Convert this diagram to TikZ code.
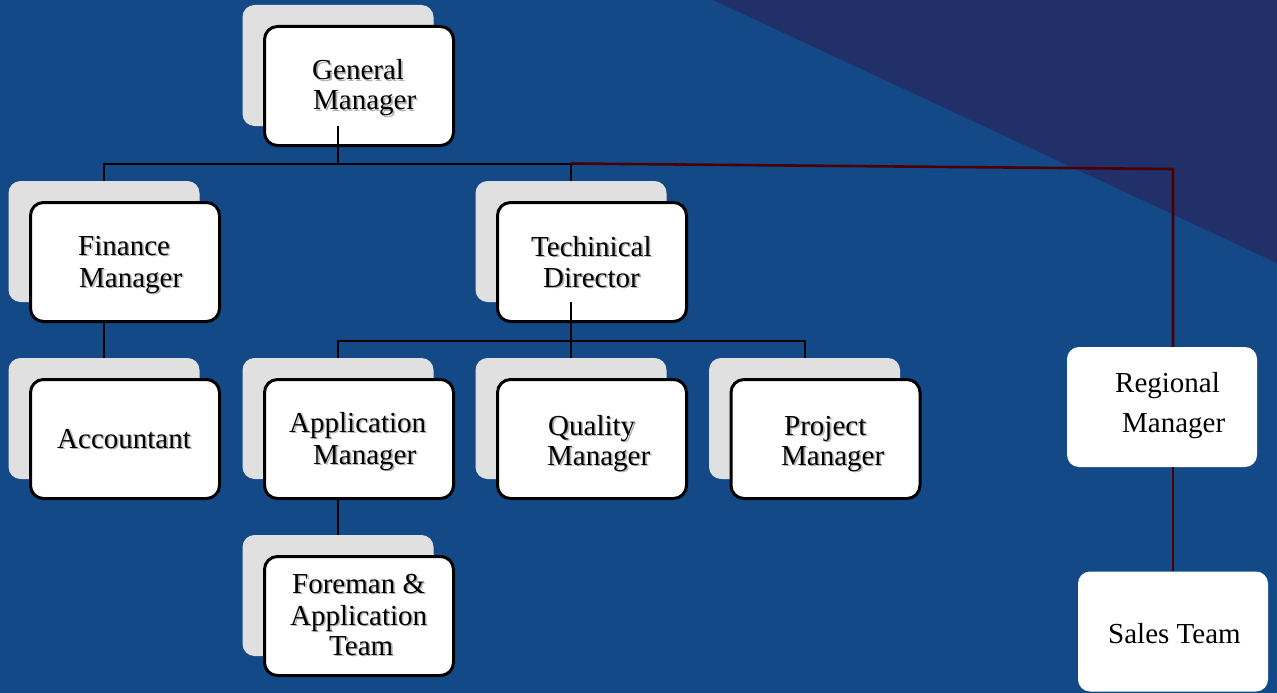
\documentclass[tikz,border=0pt]{standalone}
\usepackage{fontspec}
\setmainfont{Liberation Serif}
\definecolor{bgblue}{RGB}{20,73,136}
\definecolor{darktri}{RGB}{33,48,104}
\definecolor{shadowgray}{RGB}{224,224,224}
\definecolor{darkred}{RGB}{75,0,0}
\newcommand\shtxt[1]{\makebox[0pt][l]{\hspace{1.6pt}\raisebox{-1.6pt}{\color{black!30}#1}}#1}
\begin{document}
\begin{tikzpicture}[x=1pt,y=-1pt,
  mainbox/.style={draw=black, line width=3pt, fill=white, rounded corners=13pt, minimum width=189pt, minimum height=119pt, inner sep=0pt},
  shadowbox/.style={fill=shadowgray, rounded corners=12pt, minimum width=191pt, minimum height=121pt, inner sep=0pt},
  plainbox/.style={fill=white, rounded corners=12pt, minimum width=190pt, minimum height=120pt, inner sep=0pt},
  lbl/.style={anchor=base west, inner sep=0pt, font=\fontsize{29}{30}\selectfont, text=black},
  conn/.style={draw=black, line width=2pt},
  rconn/.style={draw=darkred, line width=2.6pt},
]
\useasboundingbox (0,0) rectangle (1277,693);
\fill[bgblue] (0,0) rectangle (1277,693);
\fill[darktri] (713,0) -- (1277,0) -- (1277,263) -- cycle;

% boxes with shadows
\foreach \nm/\cx/\cy in {gm/359/86, fm/125/262, td/592/262, ac/125/439, am/359/439, qm/592/439, pm/825.5/439, ft/359/616}{
  \node[shadowbox] (\nm s) at (\cx-21,\cy-20.5) {};
  \node[mainbox] (\nm) at (\cx,\cy) {};
}
\node[plainbox] (rm) at (1162,407) {};
\node[plainbox] (st) at (1173,631.5) {};

% connectors
\coordinate (b1) at (0,164);
\coordinate (b1r) at (0,169);
\coordinate (b2) at (0,341);
\draw[conn] (gms.south) -- (gms.south |- b1);
\draw[conn] (fms.north) |- (tds.north |- b1) -- (tds.north);
\draw[rconn] (tds.north |- 0,163.5) -- (st.north |- b1r) -- (st.north |- rm.north);
\draw[rconn] (st.north |- rm.south) -- (st.north);
\draw[conn] (fm.south -| fms.south) -- (acs.north);
\draw[conn] (tds.south) -- (tds.south |- b2);
\draw[conn] (ams.north) |- (pms.north |- b2) -- (pms.north);
\draw[conn] (qms.north) -- (qms.north |- b2);
\draw[conn] (am.south -| ams.south) -- (fts.north);

% labels
\node[lbl] (gml1) at (312,80) {\shtxt{General}};
\node[lbl] (gml2) at (313,110) {\shtxt{Manager}};
\node[lbl] (fml1) at (78,255) {\shtxt{Finance}};
\node[lbl] (fml2) at (79,287) {\shtxt{Manager}};
\node[lbl] (tdl1) at (531,256) {\shtxt{Techinical}};
\node[lbl] (tdl2) at (543,287) {\shtxt{Director}};
\node[lbl] (acl1) at (57,448) {\shtxt{Accountant}};
\node[lbl] (aml1) at (289,432) {\shtxt{Application}};
\node[lbl] (aml2) at (313,464) {\shtxt{Manager}};
\node[lbl] (qml1) at (548,435) {\shtxt{Quality}};
\node[lbl] (qml2) at (547,465) {\shtxt{Manager}};
\node[lbl] (pml1) at (784,435) {\shtxt{Project}};
\node[lbl] (pml2) at (781,465) {\shtxt{Manager}};
\node[lbl] (ftl1) at (292,593) {\shtxt{Foreman \&}};
\node[lbl] (ftl2) at (290,625) {\shtxt{Application}};
\node[lbl] (ftl3) at (329,655) {\shtxt{Team}};
\node[lbl] (rml1) at (1115,392) {Regional};
\node[lbl] (rml2) at (1122,432) {Manager};
\node[lbl] (stl1) at (1108,643) {Sales Team};
\end{tikzpicture}
\end{document}
